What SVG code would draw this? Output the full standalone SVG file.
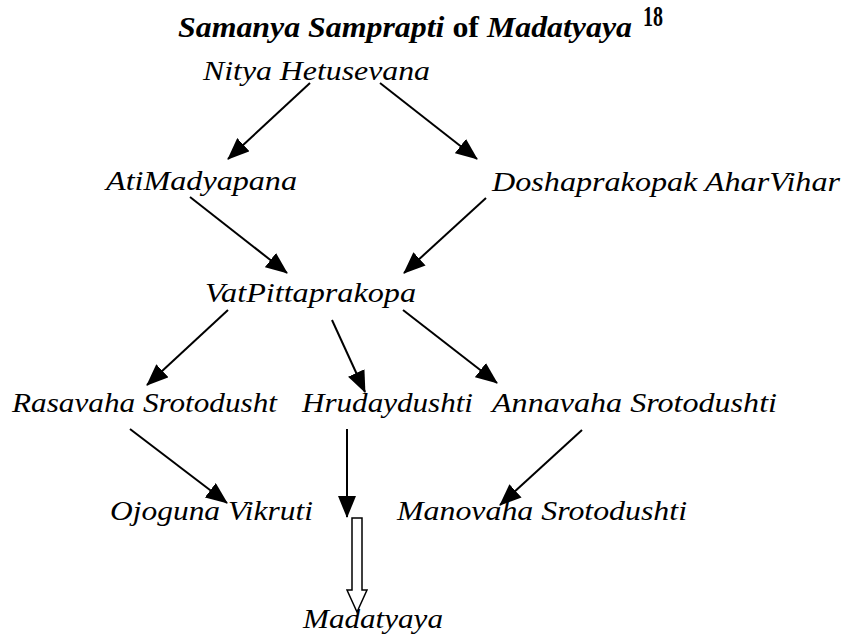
<svg xmlns="http://www.w3.org/2000/svg" width="845" height="639" viewBox="0 0 845 639">
<style>
.t{font-style:italic;font-size:28px}
.ti{font-weight:bold;font-size:30px}
.c line{stroke:#000;stroke-width:2;marker-end:url(#ah)}
</style>
<defs>
<marker id="ah" markerUnits="userSpaceOnUse" markerWidth="22" markerHeight="18" viewBox="0 0 22 18" refX="21" refY="9" orient="auto">
<path d="M0,0 L22,9 L0,18 Z" fill="#000"/>
</marker>
</defs>
<rect width="845" height="639" fill="#fff"/>
<g font-family="'Liberation Serif', serif" fill="#000">
<g id="title">
<text class="ti" x="178" y="37" textLength="454" lengthAdjust="spacingAndGlyphs"><tspan font-style="italic">Samanya Samprapti</tspan> of <tspan font-style="italic">Madatyaya</tspan></text>
<text class="ti" x="643" y="26" font-size="18" textLength="20" lengthAdjust="spacingAndGlyphs">18</text>
</g>
<g id="n1"><text class="t" x="203" y="80" textLength="227" lengthAdjust="spacingAndGlyphs">Nitya Hetusevana</text></g>
<g id="n2"><text class="t" x="106" y="190" textLength="191" lengthAdjust="spacingAndGlyphs">AtiMadyapana</text></g>
<g id="n3"><text class="t" x="492" y="191" textLength="348" lengthAdjust="spacingAndGlyphs">Doshaprakopak AharVihar</text></g>
<g id="n4"><text class="t" x="205" y="302" textLength="211" lengthAdjust="spacingAndGlyphs">VatPittaprakopa</text></g>
<g id="n5"><text class="t" x="12" y="412" textLength="265" lengthAdjust="spacingAndGlyphs">Rasavaha Srotodusht</text></g>
<g id="n6"><text class="t" x="302" y="412" textLength="171" lengthAdjust="spacingAndGlyphs">Hrudaydushti</text></g>
<g id="n7"><text class="t" x="492" y="412" textLength="285" lengthAdjust="spacingAndGlyphs">Annavaha Srotodushti</text></g>
<g id="n8"><text class="t" x="110" y="520" textLength="203" lengthAdjust="spacingAndGlyphs">Ojoguna Vikruti</text></g>
<g id="n9"><text class="t" x="397" y="520" textLength="290" lengthAdjust="spacingAndGlyphs">Manovaha Srotodushti</text></g>
<g id="n10"><text class="t" x="303" y="628" textLength="140" lengthAdjust="spacingAndGlyphs">Madatyaya</text></g>
</g>
<g id="connectors" class="c">
<line x1="310" y1="83" x2="228" y2="159"/>
<line x1="380" y1="83" x2="477" y2="159"/>
<line x1="190" y1="197" x2="287" y2="273"/>
<line x1="486" y1="198" x2="404" y2="273"/>
<line x1="228" y1="310" x2="147" y2="385"/>
<line x1="332" y1="320" x2="365" y2="392"/>
<line x1="403" y1="310" x2="497" y2="383"/>
<line x1="130" y1="429" x2="227" y2="503"/>
<line x1="347" y1="429" x2="347" y2="517"/>
<line x1="582" y1="430" x2="500" y2="505"/>
<polygon points="352,518 362,518 362,590 367,590 357,612 347,590 352,590" fill="#fff" stroke="#000" stroke-width="1.5"/>
</g>
</svg>
